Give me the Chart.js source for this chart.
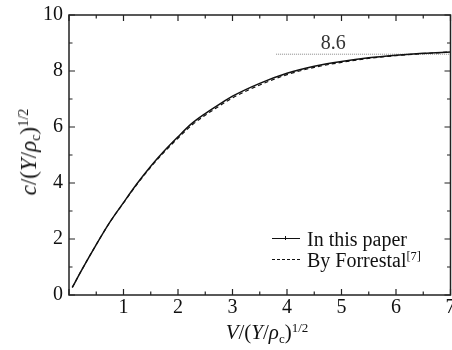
<!DOCTYPE html>
<html>
<head>
<meta charset="utf-8">
<script src="https://cdn.jsdelivr.net/npm/chart.js@4.4.0/dist/chart.umd.min.js"></script>
<style>
    body { margin: 0; background: #fff; }
    #wrap { position: relative; width: 452px; height: 350px; font-family: "Liberation Serif", "DejaVu Serif", serif; color: #111; }
    canvas { position: absolute; left: 0; top: 0; }
    .txt { position: absolute; font-size: 20px; line-height: 20px; white-space: nowrap; }
    .sup { position: relative; top: -0.55em; font-size: 0.62em; }
    .sub { position: relative; top: 0.3em; font-size: 0.62em; }
    .it { font-style: italic; }
    .swatch { position: absolute; width: 28px; height: 0; }
</style>
</head>
<body>
<div id="wrap">
    <canvas id="chart" width="452" height="350"></canvas>

    <!-- axis titles -->
    <div class="txt" id="yTitle" style="left:30px; top:152px; font-size:23px; line-height:23px; transform: translate(-50%, -50%) rotate(-90deg);">
        <span class="it">c</span>/(<span class="it">Y</span>/<span class="it">ρ</span><span class="sub">c</span>)<span class="sup">1/2</span>
    </div>
    <div class="txt" id="xTitle" style="left:267px; top:322px; font-size:21px; line-height:21px; transform: translateX(-50%);">
        <span class="it">V</span>/(<span class="it">Y</span>/<span class="it">ρ</span><span class="sub">c</span>)<span class="sup">1/2</span>
    </div>

    <!-- legend -->
    <div class="swatch" style="left:272px; top:238px; border-top:1.5px solid #111;">
        <div style="position:absolute; left:13px; top:-3px; width:1px; height:4px; background:#111;"></div>
    </div>
    <div class="txt" style="left:307px; top:229px;">In this paper</div>
    <div class="swatch" style="left:272px; top:259px; border-top:1.5px dashed #111;"></div>
    <div class="txt" style="left:307px; top:250px;">By Forrestal<span class="sup">[7]</span></div>
</div>

<script>
// Dimensionless velocity V/(Y/rho_c)^1/2
const vValues = [0.06, 0.25, 0.5, 0.75, 1.0, 1.25, 1.5, 1.75, 2.0, 2.25, 2.5, 2.75, 3.0, 3.5, 4.0, 4.5, 5.0, 5.5, 6.0, 6.5, 7.0];

// c/(Y/rho_c)^1/2 for each curve
const cPaper     = [0.27, 0.95, 1.8, 2.6, 3.3, 3.98, 4.6, 5.15, 5.65, 6.12, 6.48, 6.8, 7.1, 7.56, 7.92, 8.17, 8.34, 8.47, 8.56, 8.63, 8.68];
const cForrestal = [0.27, 0.95, 1.8, 2.6, 3.29, 3.96, 4.57, 5.11, 5.6, 6.06, 6.42, 6.74, 7.04, 7.5, 7.87, 8.13, 8.31, 8.45, 8.55, 8.62, 8.68];

// asymptote reference line
const refLevel = 8.6;
const refStart = 3.8;
const refEnd = 7;
const refLabel = '8.6';
const refLabelV = 4.85;

const toPoints = (xs, ys) => xs.map((v, i) => ({ x: v, y: ys[i] }));

// Frame with inward ticks on all four sides, plus the 8.6 label
const frameTicks = {
    id: 'frameTicks',
    afterDraw(chart) {
        const { ctx, chartArea: a, scales: { x, y } } = chart;
        ctx.save();
        ctx.strokeStyle = '#222';
        ctx.lineWidth = 1.5;
        ctx.strokeRect(a.left, a.top, a.right - a.left, a.bottom - a.top);

        ctx.lineWidth = 1.2;
        ctx.beginPath();
        x.ticks.forEach(t => {
            const px = x.getPixelForValue(t.value);
            const len = Number.isInteger(t.value) ? 6 : 3.5;
            ctx.moveTo(px, a.bottom); ctx.lineTo(px, a.bottom - len);
            ctx.moveTo(px, a.top); ctx.lineTo(px, a.top + len);
        });
        y.ticks.forEach(t => {
            const py = y.getPixelForValue(t.value);
            const len = t.value % 2 === 0 ? 6 : 3.5;
            ctx.moveTo(a.left, py); ctx.lineTo(a.left + len, py);
            ctx.moveTo(a.right, py); ctx.lineTo(a.right - len, py);
        });
        ctx.stroke();

        ctx.font = '20px "Liberation Serif", serif';
        ctx.fillStyle = '#333';
        ctx.textAlign = 'center';
        ctx.textBaseline = 'alphabetic';
        ctx.fillText(refLabel, x.getPixelForValue(refLabelV), y.getPixelForValue(refLevel) - 5);
        ctx.restore();
    }
};

// no extra label padding, so the "7" gets clipped at the edge like the original
function fixedSize(prop, size) {
    return function(scale) {
        scale[prop] = size;
        scale.paddingLeft = 0;
        scale.paddingRight = 0;
        scale.paddingTop = 0;
        scale.paddingBottom = 0;
    };
}

const ctx = document.getElementById('chart').getContext('2d');
new Chart(ctx, {
    type: 'line',
    data: {
        datasets: [
            {
                label: 'In this paper',
                data: toPoints(vValues, cPaper),
                borderColor: '#111',
                borderWidth: 1.5,
                pointRadius: 0,
                cubicInterpolationMode: 'monotone'
            },
            {
                label: 'By Forrestal[7]',
                data: toPoints(vValues, cForrestal),
                borderColor: '#111',
                borderWidth: 1.2,
                borderDash: [4, 3],
                pointRadius: 0,
                cubicInterpolationMode: 'monotone'
            },
            {
                label: 'asymptote',
                data: [{ x: refStart, y: refLevel }, { x: refEnd, y: refLevel }],
                borderColor: '#888',
                borderWidth: 1,
                borderDash: [1, 1],
                pointRadius: 0
            }
        ]
    },
    options: {
        responsive: false,
        animation: false,
        devicePixelRatio: 1,
        layout: { padding: { left: 0, right: 1.5, top: 15, bottom: 0 } },
        plugins: {
            legend: { display: false },
            tooltip: { enabled: false }
        },
        scales: {
            x: {
                type: 'linear',
                min: 0,
                max: 7,
                grid: { display: false, drawTicks: false },
                border: { display: false },
                afterFit: fixedSize('height', 55),
                ticks: {
                    stepSize: 0.5,
                    autoSkip: false,
                    maxRotation: 0,
                    padding: 1,
                    color: '#111',
                    font: { family: '"Liberation Serif", serif', size: 20 },
                    callback: function(value) {
                        return Number.isInteger(value) && value !== 0 ? value : '';
                    }
                }
            },
            y: {
                type: 'linear',
                min: 0,
                max: 10,
                grid: { display: false, drawTicks: false },
                border: { display: false },
                afterFit: fixedSize('width', 69),
                ticks: {
                    stepSize: 1,
                    autoSkip: false,
                    padding: 6,
                    color: '#111',
                    font: { family: '"Liberation Serif", serif', size: 20 },
                    callback: function(value) {
                        return value % 2 === 0 ? value : '';
                    }
                }
            }
        }
    },
    plugins: [frameTicks]
});
</script>
</body>
</html>
